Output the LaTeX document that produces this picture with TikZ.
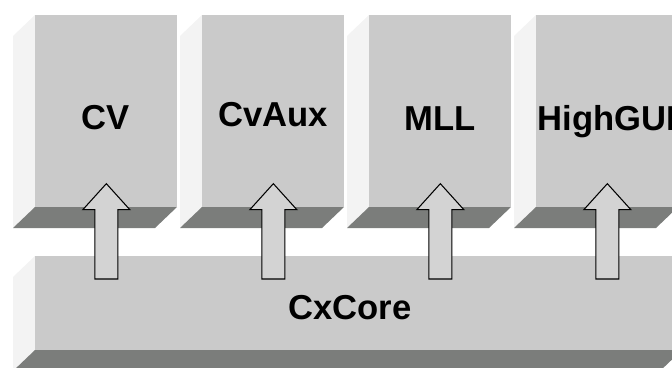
\documentclass[tikz,border=0pt]{standalone}
\usepackage{fontspec}
\setmainfont{Liberation Sans}
\usetikzlibrary{calc}

\definecolor{frontgray}{HTML}{CACACA}
\definecolor{sidegray}{HTML}{F3F3F3}
\definecolor{basegray}{HTML}{7B7D7B}
\definecolor{arrowgray}{HTML}{D3D3D3}

\begin{document}
\begin{tikzpicture}[x=0.02cm, y=-0.02cm,
    front/.style={fill=frontgray, draw=none, inner sep=0pt, anchor=north west},
    modname/.style={anchor=base, inner sep=0pt, font=\fontsize{19.7}{23}\selectfont\bfseries},
    blockarrow/.style={fill=arrowgray, draw=black, line width=0.6pt, line join=miter}]
    \clip (0,0) rectangle (672,368);

    % Modulos de arriba
    \foreach \i/\name/\val/\base in {
        0/cv/CV/130,
        1/cvaux/CvAux/126,
        2/mll/MLL/131,
        3/highgui/HighGUI/131
        } {
        \pgfmathsetmacro\xl{35+167*\i}
        \fill[sidegray] (\xl,15) -- (\xl-22,36) -- (\xl-22,228) -- (\xl,207) -- cycle;
        \fill[basegray] (\xl,207) -- (\xl+142,207) -- (\xl+120,228) -- (\xl-22,228) -- cycle;
        \node[front, minimum width=2.84cm, minimum height=3.84cm] (\name) at (\xl,15) {};
        \node[modname] (\name-txt) at (\xl+71,\base) {\val};
    }

    % Base
    \fill[sidegray] (35,256) -- (13,277) -- (13,371) -- (35,350) -- cycle;
    \fill[basegray] (35,350) -- (682,350) -- (660,371) -- (13,371) -- cycle;
    \node[front, minimum width=12.94cm, minimum height=1.88cm] (core) at (35,256) {};
    \node[modname] (core-txt) at (350,319) {CxCore};

    % Flechas
    \foreach \name in {cv, cvaux, mll, highgui} {
        \coordinate (\name-tip) at ($(\name.south)+(0,-24)$);
        \coordinate (\name-bot) at ($(core.north -| \name.south)+(0,23)$);
        \draw[blockarrow] ($(\name-bot)+(-11.5,0)$) -- ($(\name-tip)+(-11.5,26)$)
            -- ($(\name-tip)+(-23.5,26)$) -- (\name-tip) -- ($(\name-tip)+(23.5,26)$)
            -- ($(\name-tip)+(11.5,26)$) -- ($(\name-bot)+(11.5,0)$) -- cycle;
    }
\end{tikzpicture}
\end{document}
